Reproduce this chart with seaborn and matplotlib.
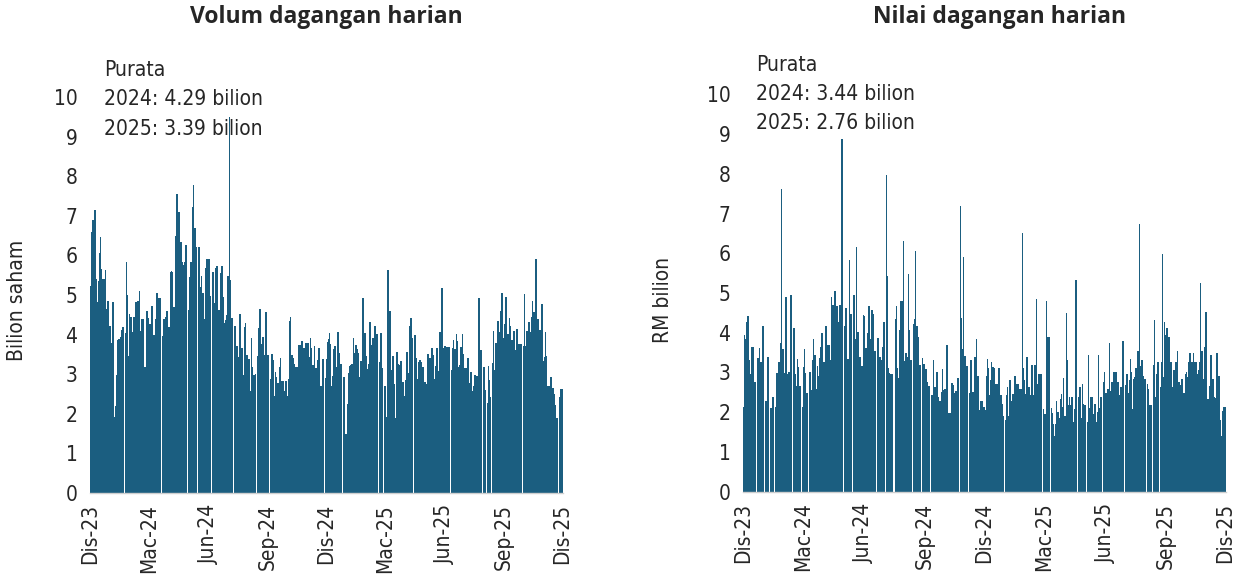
import numpy as np
import pandas as pd
import matplotlib
matplotlib.use("Agg")
import matplotlib.pyplot as plt
import seaborn as sns
from matplotlib import font_manager

# ---------------- data ----------------
quarter_labels = ["Dis-23", "Mac-24", "Jun-24", "Sep-24", "Dis-24",
                  "Mac-25", "Jun-25", "Sep-25", "Dis-25"]

# Daily trading volume (billion shares); 0 = no bar (gap)
volume = [
    5.23, 6.6, 6.9, 6.9, 7.15, 7.15, 5.4, 4.83, 5.36, 6.07,
    6.47, 5.66, 5.4, 5.4, 5.4, 5.63, 4.65, 4.85, 4.85, 4.22,
    4.22, 3.8, 4.82, 4.82, 1.93, 2.2, 2.98, 3.86, 3.88, 3.9,
    3.95, 4.12, 4.18, 4.18, 0, 4.03, 5.83, 5.0, 3.47, 4.52,
    4.44, 4.44, 4.06, 4.44, 4.44, 4.82, 4.82, 4.85, 4.85, 5.1,
    4.1, 4.39, 4.39, 4.39, 3.19, 3.19, 4.6, 4.6, 4.41, 4.28,
    4.28, 4.72, 4.72, 3.99, 3.99, 4.4, 5.06, 5.06, 4.93, 4.93,
    4.93, 0, 3.97, 4.39, 4.39, 4.45, 4.6, 4.6, 4.2, 4.2,
    5.59, 5.6, 5.59, 4.69, 4.69, 6.5, 7.55, 7.55, 7.1, 7.1,
    6.34, 6.34, 5.84, 5.76, 5.84, 6.26, 6.26, 0, 4.62, 5.45,
    5.84, 5.84, 7.21, 7.78, 6.7, 6.7, 6.22, 0, 6.22, 6.22,
    5.2, 5.49, 5.04, 5.04, 4.4, 5.68, 5.91, 5.91, 5.91, 5.91,
    4.97, 0, 5.59, 5.59, 4.81, 5.67, 5.72, 5.72, 4.62, 4.62,
    5.55, 5.72, 5.72, 4.96, 4.3, 4.37, 4.49, 5.49, 5.49, 9.5,
    5.38, 4.43, 4.43, 0, 4.22, 4.22, 3.7, 3.7, 3.43, 4.52,
    4.52, 3.65, 3.65, 2.98, 4.18, 4.3, 3.48, 3.48, 3.39, 3.39,
    2.58, 3.91, 3.19, 2.98, 2.98, 3.0, 0, 3.47, 4.16, 4.65,
    4.65, 3.76, 3.95, 3.95, 3.48, 4.58, 4.58, 3.48, 3.48, 0,
    2.87, 3.51, 3.51, 3.36, 2.45, 3.06, 2.92, 2.79, 2.79, 3.19,
    3.42, 2.84, 2.84, 2.84, 2.58, 2.84, 2.84, 2.45, 2.89, 4.35,
    4.45, 3.48, 3.48, 3.4, 3.26, 3.19, 3.19, 3.19, 3.74, 3.74,
    3.74, 3.85, 3.85, 3.67, 3.67, 3.8, 3.8, 3.8, 3.8, 3.44,
    3.91, 3.67, 3.22, 3.22, 3.7, 3.16, 3.16, 3.36, 3.65, 3.65,
    2.69, 2.69, 3.39, 3.39, 0, 2.9, 3.38, 3.82, 3.9, 4.03,
    3.76, 2.7, 2.95, 3.64, 3.71, 3.71, 3.19, 4.06, 4.06, 3.53,
    3.26, 3.26, 0, 2.92, 2.92, 1.49, 1.49, 2.25, 3.02, 3.21,
    3.23, 3.26, 3.26, 3.91, 3.53, 3.74, 3.74, 3.64, 3.53, 2.94,
    3.33, 3.33, 4.92, 4.92, 4.03, 4.03, 3.46, 3.12, 3.26, 4.31,
    4.31, 3.74, 3.91, 3.91, 4.22, 4.22, 4.02, 4.02, 0, 3.3,
    4.03, 4.03, 3.16, 0, 2.7, 2.7, 1.93, 5.63, 5.63, 4.6,
    4.6, 3.1, 3.47, 3.47, 2.75, 1.89, 3.55, 3.55, 3.27, 3.22,
    3.33, 3.33, 2.8, 2.8, 2.46, 2.85, 3.55, 3.55, 3.04, 4.22,
    4.41, 4.41, 3.91, 0, 3.98, 3.98, 3.4, 2.88, 3.3, 3.36,
    3.36, 3.31, 3.17, 3.17, 2.8, 2.8, 2.75, 3.5, 3.5, 3.4,
    3.4, 3.65, 3.65, 3.48, 2.87, 3.21, 3.65, 3.65, 3.08, 4.07,
    4.07, 5.17, 5.17, 3.67, 3.71, 3.71, 3.68, 3.68, 3.68, 3.68,
    0, 3.1, 3.67, 3.86, 3.64, 3.64, 4.01, 3.85, 3.19, 3.22,
    3.68, 3.68, 4.01, 3.5, 3.16, 3.16, 3.16, 3.42, 3.42, 2.79,
    3.06, 3.06, 2.58, 2.69, 2.98, 2.98, 2.96, 2.96, 4.92, 4.92,
    3.61, 3.61, 0, 3.19, 3.19, 2.6, 0, 2.28, 3.21, 2.85,
    2.43, 0, 3.29, 4.09, 3.1, 3.8, 3.8, 4.34, 4.34, 4.07,
    4.6, 5.05, 5.05, 3.91, 4.28, 4.94, 4.94, 4.01, 4.01, 4.41,
    4.22, 3.86, 3.86, 4.09, 4.09, 3.61, 4.13, 4.13, 3.76, 3.76,
    3.76, 3.76, 0, 3.71, 5.02, 3.71, 4.09, 4.09, 4.33, 4.33,
    4.07, 4.45, 4.85, 4.58, 4.58, 5.91, 5.91, 4.39, 4.39, 4.12,
    4.12, 4.77, 4.77, 3.33, 3.44, 4.07, 3.47, 2.69, 2.69, 2.69,
    2.92, 2.92, 2.66, 2.66, 2.49, 2.23, 1.89, 1.89, 0, 2.43,
    2.63, 2.63, 2.63,
]

# Daily trading value (RM billion); 0 = no bar (gap)
value = [
    2.12, 3.93, 3.83, 4.28, 4.41, 4.41, 3.3, 2.95, 3.65, 3.65,
    3.65, 2.77, 2.77, 0, 3.37, 3.37, 3.62, 3.27, 3.27, 4.18,
    4.18, 0, 2.29, 2.29, 3.4, 3.4, 0, 2.1, 2.1, 2.39,
    2.39, 0, 2.12, 2.99, 2.99, 3.27, 3.27, 3.74, 7.61, 3.59,
    3.59, 2.99, 4.91, 4.91, 2.96, 3.01, 3.01, 4.96, 4.96, 0,
    4.12, 4.12, 2.96, 2.65, 3.34, 3.13, 2.65, 2.65, 0, 2.14,
    3.13, 3.59, 2.98, 2.48, 2.48, 0, 3.02, 3.02, 2.56, 3.3,
    3.83, 3.44, 3.44, 2.57, 3.15, 2.92, 3.37, 3.65, 4.0, 4.0,
    3.25, 3.25, 4.16, 4.16, 3.68, 3.7, 3.7, 3.32, 4.89, 4.69,
    4.69, 5.04, 5.04, 4.67, 4.67, 4.27, 4.69, 4.69, 8.88, 8.88,
    0, 4.18, 4.63, 4.63, 3.34, 3.34, 5.84, 4.46, 4.46, 0,
    4.95, 4.95, 3.83, 6.17, 4.01, 4.01, 3.38, 3.38, 3.15, 3.15,
    4.45, 4.41, 3.62, 3.62, 4.0, 4.66, 4.66, 3.83, 4.56, 4.56,
    4.46, 3.53, 3.53, 0, 3.87, 3.87, 3.4, 3.4, 3.3, 3.65,
    4.26, 4.26, 0, 7.98, 5.44, 3.12, 2.99, 2.95, 2.95, 2.95,
    0, 0, 4.35, 4.68, 3.12, 2.87, 4.06, 4.79, 4.79, 4.79,
    6.3, 3.28, 3.49, 3.49, 3.4, 5.48, 4.06, 3.32, 3.32, 0,
    4.22, 4.34, 6.07, 4.18, 4.18, 3.9, 3.19, 3.19, 0, 3.36,
    3.21, 3.21, 3.08, 3.08, 2.75, 2.67, 2.67, 0, 2.42, 2.42,
    3.32, 2.63, 2.63, 3.02, 3.02, 2.39, 2.29, 2.29, 2.5, 3.08,
    2.56, 2.59, 2.59, 3.7, 3.7, 1.97, 1.97, 1.97, 2.74, 2.74,
    2.69, 2.48, 2.53, 2.53, 2.86, 2.86, 0, 7.2, 4.37, 3.59,
    5.9, 3.41, 3.41, 3.15, 3.15, 0, 2.48, 3.3, 3.32, 2.5,
    2.5, 3.4, 3.4, 3.83, 2.92, 2.92, 2.06, 2.29, 2.29, 2.29,
    2.12, 2.12, 2.06, 2.9, 3.35, 3.12, 2.44, 2.8, 3.25, 3.13,
    3.13, 3.12, 2.7, 2.7, 2.7, 3.1, 3.1, 2.42, 2.42, 2.21,
    1.91, 0, 1.81, 2.42, 2.64, 1.89, 2.8, 2.8, 2.29, 2.46,
    2.46, 2.9, 2.9, 2.71, 2.71, 2.71, 2.57, 2.57, 2.57, 6.52,
    3.1, 2.8, 2.46, 3.4, 3.38, 2.63, 2.63, 2.44, 3.19, 3.19,
    2.44, 3.19, 3.19, 4.84, 2.71, 2.95, 2.96, 2.96, 2.96, 0,
    2.08, 1.96, 1.96, 4.79, 3.89, 3.89, 3.89, 0, 2.11, 1.98,
    1.7, 1.39, 1.7, 2.27, 1.99, 1.99, 1.85, 2.32, 2.46, 2.12,
    2.86, 1.91, 1.91, 4.5, 3.32, 2.19, 2.39, 2.19, 2.39, 2.39,
    1.74, 2.09, 5.34, 5.34, 0, 2.38, 2.63, 2.63, 1.86, 2.7,
    2.21, 2.17, 2.17, 0, 1.76, 3.43, 2.1, 2.39, 2.39, 2.39,
    1.96, 2.21, 2.21, 1.76, 2.0, 3.43, 2.1, 2.39, 2.39, 0,
    2.75, 3.0, 2.49, 2.49, 2.58, 2.58, 3.75, 2.52, 2.77, 2.77,
    3.02, 3.02, 3.02, 3.02, 2.75, 2.75, 2.44, 2.63, 2.63, 3.8,
    3.8, 0, 2.69, 2.95, 2.95, 2.48, 2.82, 3.35, 3.0, 2.09,
    2.83, 2.88, 3.11, 3.11, 3.55, 3.55, 6.73, 3.15, 3.32, 3.32,
    2.92, 2.83, 2.83, 0, 2.71, 2.57, 2.19, 2.19, 2.19, 0,
    3.19, 4.32, 2.38, 2.95, 3.25, 3.25, 0, 2.63, 3.27, 5.97,
    2.88, 4.26, 3.93, 4.12, 4.12, 3.9, 3.9, 3.27, 3.27, 2.63,
    3.05, 3.05, 3.27, 3.27, 3.53, 2.77, 2.77, 2.69, 2.83, 2.83,
    2.48, 2.48, 2.95, 3.0, 2.88, 3.27, 3.5, 3.5, 3.27, 3.27,
    3.5, 3.27, 3.27, 3.27, 2.95, 3.05, 3.27, 5.26, 3.55, 3.55,
    2.83, 3.65, 4.53, 4.53, 2.33, 2.33, 2.67, 3.44, 3.44, 2.83,
    2.83, 2.39, 2.36, 3.5, 3.5, 2.9, 2.9, 1.79, 1.39, 2.02,
    2.14, 2.14, 2.14,
]

titles = ["Volum dagangan harian", "Nilai dagangan harian"]
ylabels = ["Bilion saham", "RM bilion"]
avg_volume = ["Purata", "2024: 4.29 bilion", "2025: 3.39 bilion"]
avg_value = ["Purata", "2024: 3.44 bilion", "2025: 2.76 bilion"]

# ---------------- style ----------------
sns.set_theme(style="white")
plt.rcParams["font.family"] = ["DejaVu Sans"]
plt.rcParams["font.stretch"] = "condensed"

BAR = "#1b5e80"
TXT = "#262626"
W, H = 1238, 580

fig = plt.figure(figsize=(W / 100, H / 100), dpi=100)
ax1 = fig.add_axes([90 / W, 87 / H, 473 / W, 396 / H])
ax2 = fig.add_axes([743 / W, 88.5 / H, 483 / W, 397 / H])

FS = 15


def draw(ax, vals):
    df = pd.DataFrame({"hari": np.arange(len(vals)), "nilai": vals})
    sns.barplot(data=df, x="hari", y="nilai", native_scale=True, width=1.0,
                color=BAR, saturation=1, linewidth=0, errorbar=None, ax=ax)
    for p in ax.patches:
        p.set_antialiased(False)
    n = len(vals)
    ax.set_xlim(-0.5, n - 0.5)
    ax.set_ylim(0, 10)
    ax.set_yticks(range(0, 11))
    ax.set_yticklabels([str(i) for i in range(0, 11)])
    ticks = [round(i * (n - 1) / 8) for i in range(9)]
    ax.set_xticks(ticks)
    ax.set_xticklabels(quarter_labels, rotation=90)
    ax.tick_params(axis="y", length=0, pad=9, labelsize=FS, labelcolor=TXT)
    ax.tick_params(axis="x", length=5, width=1, color="#cfcfcf", pad=3,
                   labelsize=FS, labelcolor=TXT)
    for s in ["top", "left", "right"]:
        ax.spines[s].set_visible(False)
    ax.spines["bottom"].set_color("#cfcfcf")
    ax.spines["bottom"].set_linewidth(1)
    ax.set_xlabel("")
    ax.set_ylabel("")


draw(ax1, volume)
draw(ax2, value)

# titles
for xc, t in zip([326, 1000], titles):
    fig.text(xc / W, 1 - 17 / H, t, ha="center", va="center",
             fontsize=16.5, fontweight="bold", color=TXT,
             family=["Open Sans", "DejaVu Sans"], stretch="normal")

# y labels
fig.text(17 / W, 1 - 300 / H, ylabels[0], rotation=90, ha="center", va="center",
         fontsize=FS, color=TXT)
fig.text(663 / W, 1 - 300 / H, ylabels[1], rotation=90, ha="center", va="center",
         fontsize=FS, color=TXT)

# average annotations
for t, yc in zip(avg_volume, [70, 99, 129]):
    fig.text(104 / W, 1 - yc / H, t, ha="left", va="center", fontsize=FS,
             color=TXT, zorder=5)
for t, yc in zip(avg_value, [65, 94, 123]):
    fig.text(756 / W, 1 - yc / H, t, ha="left", va="center", fontsize=FS,
             color=TXT, zorder=5)

fig.savefig("out.png", dpi=100, facecolor="white")
